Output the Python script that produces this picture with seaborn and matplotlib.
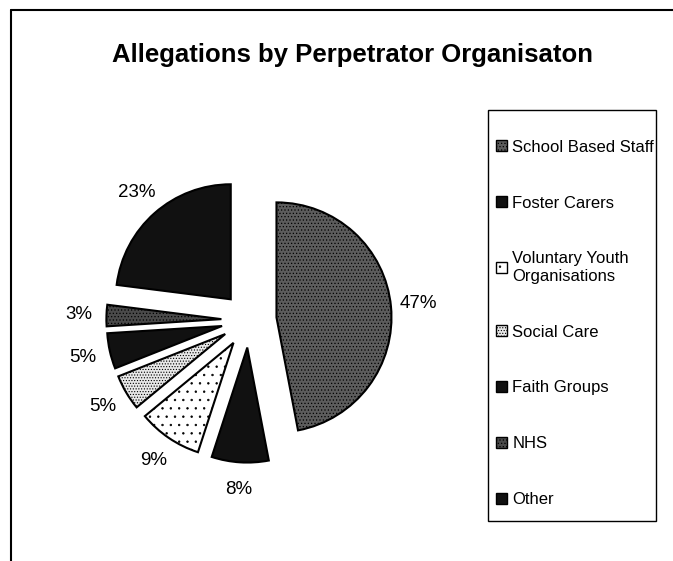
import matplotlib
matplotlib.use('Agg')
import matplotlib.pyplot as plt
from matplotlib.patches import Rectangle, Patch
from matplotlib.lines import Line2D
import seaborn as sns

# data (clockwise from 12 o'clock)
groups = ['School Based Staff', 'Foster Carers', 'Voluntary Youth\nOrganisations',
          'Social Care', 'Faith Groups', 'NHS', 'Other']
shares = [47, 8, 9, 5, 5, 3, 23]

sns.set_theme(style='white')
plt.rcParams['font.family'] = ['Liberation Sans', 'DejaVu Sans']
plt.rcParams['text.color'] = 'black'
plt.rcParams['hatch.linewidth'] = 0.5

faces = ['#5c5c5c', '#111111', '#ffffff', '#e8e8e8', '#111111', '#4a4a4a', '#111111']
hatches = ['.....', None, '..', '......', None, '.....', None]

fig = plt.figure(figsize=(6.73, 5.61), dpi=100)

# pie centred around (249, 320) px, radius ~115 px
L = 1.6
ax = fig.add_axes([(249 - 184) / 673, (561 - 320 - 184) / 561, 368 / 673, 368 / 561])
wedges, _, pcts = ax.pie(shares, startangle=90, counterclock=False,
                         explode=[0.24] * len(shares),
                         autopct=lambda p: f'{p:.0f}%', pctdistance=1.24,
                         wedgeprops=dict(edgecolor='black', linewidth=1.5),
                         textprops=dict(fontsize=13.5, color='black'))
for w, fc, h in zip(wedges, faces, hatches):
    w.set_facecolor(fc)
    if h:
        w.set_hatch(h)
ax.set_xlim(-L, L)
ax.set_ylim(-L, L)
ax.axis('off')

fig.text(353 / 673, 1 - 55 / 561, 'Allegations by Perpetrator Organisaton',
         ha='center', va='center', fontsize=18.5, fontweight='bold', color='black')

# legend box drawn by hand so it matches the reference size
fig.add_artist(Rectangle((488 / 673, 1 - 521 / 561), (656 - 488) / 673, (521 - 110) / 561,
                         transform=fig.transFigure, fill=False, edgecolor='black', linewidth=1))
handles = [Patch(facecolor=fc, edgecolor='black', hatch=h, linewidth=1)
           for fc, h in zip(faces, hatches)]
fig.legend(handles, groups, loc='upper left', bbox_to_anchor=(489 / 673, 1 - 133 / 561),
           frameon=False, fontsize=12, handlelength=0.65, handleheight=0.65,
           handletextpad=0.35, labelspacing=2.45, borderaxespad=0, labelcolor='black')

# outer chart frame (left and top edges visible)
fig.add_artist(Line2D([11 / 673, 11 / 673], [0, 1 - 10 / 561], transform=fig.transFigure,
                      color='black', linewidth=1.5))
fig.add_artist(Line2D([11 / 673, 1], [1 - 10 / 561, 1 - 10 / 561], transform=fig.transFigure,
                      color='black', linewidth=1.5))

fig.savefig('out.png', dpi=100, facecolor='white')
